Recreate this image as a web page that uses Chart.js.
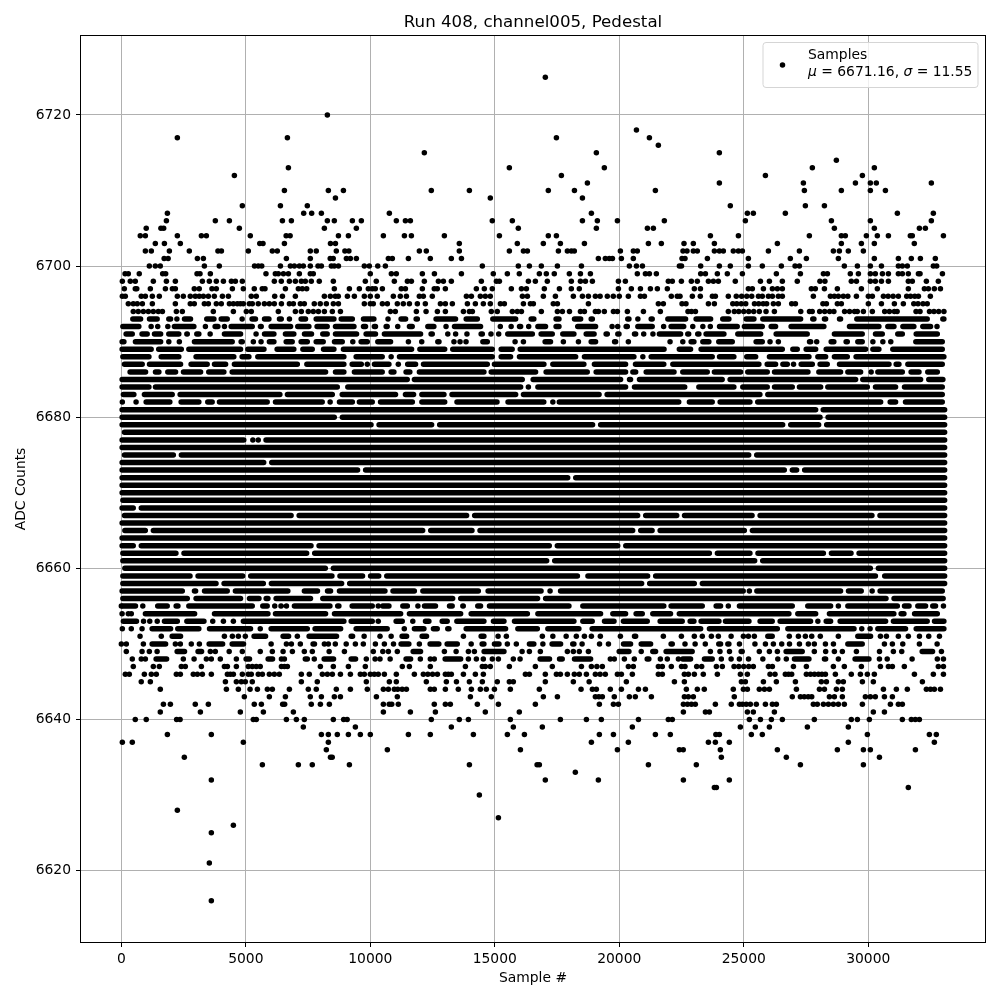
<!DOCTYPE html>
<html>
<head>
<meta charset="utf-8">
<title>Run 408, channel005, Pedestal</title>
<script src="https://cdn.jsdelivr.net/npm/chart.js@4"></script>
<style>
body { margin: 0; background: #fff; }
canvas { display: block; }
</style>
</head>
<body>
<canvas id="myChart" width="1000" height="1000"></canvas>
<script>
// Achsen
const xTicks = [0, 5000, 10000, 15000, 20000, 25000, 30000];
const yTicks = [6620, 6640, 6660, 6680, 6700, 6720];

// single dots: sample numbers per ADC level
const dotLevels = [6725, 6720, 6718, 6717, 6716, 6715, 6714, 6713, 6712, 6711, 6710, 6709, 6708, 6707, 6706, 6705, 6704, 6703, 6702, 6701, 6700, 6699, 6698, 6697, 6696, 6695, 6694,
    6690, 6687, 6684, 6682, 6677, 6657, 6655, 6654, 6653, 6652, 6651, 6650, 6649, 6648, 6647, 6646, 6645, 6644, 6643, 6642, 6641, 6640, 6639, 6638, 6637, 6636, 6635, 6634, 6633, 6632, 6631, 6630, 6628, 6627, 6626, 6625, 6621, 6616];
const dotSamples = [
    /*6725*/ [17030],
    /*6720*/ [8275],
    /*6718*/ [20690],
    /*6717*/ [2250, 6670, 17475, 21210],
    /*6716*/ [21570],
    /*6715*/ [12170, 19080, 24020],
    /*6714*/ [28720],
    /*6713*/ [6710, 15585, 19400, 27755, 30245],
    /*6712*/ [4540, 17675, 25870, 29765],
    /*6711*/ [18720, 24020, 27395, 29485, 30085, 30325, 32535],
    /*6710*/ [6550, 8315, 8920, 12450, 13980, 17150, 18200, 21450, 27435, 28920, 30085, 30690],
    /*6709*/ [8600, 14820, 18520],
    /*6708*/ [4860, 6390, 7470, 24460, 27475, 28240],
    /*6707*/ [1850, 7325, 7645, 8035, 10765, 18880, 25145, 25385, 26670, 31170, 32615],
    /*6706*/ [1810, 3775, 4340, 6470, 6830, 8275, 8555, 9280, 9640, 11045, 11410, 11610, 14900, 15705, 18520, 19120, 19925, 21810, 25065, 28520, 30085, 32535],
    /*6705*/ [1000, 1590, 1700, 4740, 8155, 9440, 15945, 19080, 21130, 21370, 28640, 30245, 32055, 32295],
    /*6704*/ [760, 965, 2250, 3215, 3415, 5180, 6620, 6780, 8720, 9120, 10525, 11370, 11650, 12975, 15185, 17150, 17475, 23660, 24785, 27635, 28920, 29080, 29925, 30365, 30810, 31690, 31770, 33020],
    /*6703*/ [1365, 1730, 2370, 5560, 5690, 6550, 8400, 8600, 13575, 15905, 16950, 17635, 18600, 21170, 21690, 22600, 22975, 23820, 26350, 28920, 29725, 30245, 31850],
    /*6702*/ [965, 1205, 1930, 2730, 3880, 4020, 5100, 6065, 6265, 7590, 7830, 8635, 8980, 9140, 11970, 12250, 13575, 15585, 16150, 16310, 17555, 17915, 18075, 18195, 20045, 20565, 20725, 22560, 22720, 22975, 23135, 23820, 24020, 24180, 24580, 24785, 24945, 25990, 27235, 28600, 28840, 29200, 29805],
    /*6701*/ [1720, 1880, 3055, 3295, 6630, 7590, 8390, 8510, 9040, 9200, 9440, 10725, 10885, 11530, 12410, 13255, 13660, 19160, 19440, 19600, 19725, 20085, 20565, 22520, 22640, 23540, 25185, 26870, 27515, 28800, 30245, 31210, 31730, 32095, 32695],
    /*6700*/ [1125, 1365, 1565, 3335, 3935, 5350, 5500, 5640, 6390, 6790, 6950, 7150, 7310, 7590, 7900, 8035, 8435, 8555, 8720, 9760, 9960, 10300, 10605, 14500, 15945, 16390, 16870, 17515, 18480, 20405, 20690, 20930, 22415, 22500, 23270, 24020, 24460, 25185, 25745, 26510, 27060, 27235, 29040, 29565, 30085, 30530, 31210, 31370, 31570, 32615, 32750],
    /*6699*/ [150, 280, 720, 1660, 1780, 3040, 3160, 3575, 5810, 6185, 6305, 6510, 6710, 7150, 7590, 7710, 10000, 10845, 11045, 12090, 12575, 13660, 14940, 15505, 15985, 16790, 17070, 17390, 17995, 18440, 18840, 20725, 21050, 21210, 21490, 23270, 23460, 23940, 24340, 24945, 26310, 27275, 28200, 28360, 29280, 29605, 30085, 30285, 30570, 30810, 31210, 31370, 31610, 32015, 32080, 32980],
    /*6698*/ [40, 360, 560, 1285, 1810, 2170, 3255, 3535, 3815, 4100, 4420, 4580, 4860, 6145, 6425, 6750, 6990, 7230, 7390, 7630, 7950, 8515, 9800, 10240, 10965, 11490, 11650, 12170, 12735, 12935, 13255, 14460, 15065, 15185, 16350, 16630, 17110, 18075, 18440, 18640, 18920, 19965, 20245, 21970, 22130, 22495, 22895, 23135, 23580, 23780, 23980, 24660, 25670, 26030, 26550, 27150, 28060, 28260, 29320, 29525, 30085, 30285, 30530, 30810, 31610, 31770, 32335, 32815],
    /*6697*/ [120, 560, 620, 1165, 1770, 2050, 2170, 2930, 3130, 3640, 3815, 4460, 4900, 5340, 5660, 5770, 6590, 7110, 7270, 7445, 8555, 9160, 9560, 9920, 10080, 10200, 10485, 11245, 11410, 12090, 12570, 12690, 13015, 14260, 14580, 14900, 15665, 16070, 16270, 16990, 17595, 18075, 18395, 19965, 20485, 20850, 21250, 21530, 21930, 23015, 23260, 25185, 25345, 25790, 26150, 26350, 26550, 27715, 27875, 28240, 28760, 29725, 30365, 31610, 32255, 32415, 32655, 32900],
    /*6696*/ [40, 160, 800, 965, 1245, 1525, 2250, 2490, 2770, 2970, 3130, 3295, 3495, 3735, 4060, 4300, 5220, 5420, 6160, 6470, 6990, 8155, 8395, 8595, 8715, 9080, 9360, 9760, 10000, 10280, 10925, 11205, 11450, 11970, 12130, 12490, 13860, 14060, 14420, 14620, 14820, 16110, 16310, 16950, 17435, 18155, 18520, 18760, 19040, 19230, 19520, 19760, 20000, 20365, 20850, 21010, 22090, 22330, 22440, 22935, 23255, 23740, 23860, 24380, 24700, 24915, 25120, 25320, 25590, 25745, 25990, 26150, 26390, 26550, 27795, 28480, 28640, 28800, 29000, 29180, 29525, 30005, 30165, 30610, 30800, 31000, 31210, 31545, 31700, 31870, 32015, 32495],
    /*6695*/ [280, 480, 640, 845, 1245, 2170, 2770, 2930, 3335, 3495, 3815, 4015, 4340, 4500, 4660, 4780, 4900, 5140, 5260, 5500, 5745, 5945, 6145, 6430, 6750, 6910, 7190, 7350, 7750, 7990, 8235, 8515, 8720, 9760, 10000, 10120, 10485, 10685, 11085, 11325, 11570, 11890, 12210, 12815, 13015, 13295, 13900, 14220, 14540, 14820, 15225, 15385, 16150, 16430, 16550, 17350, 17515, 18760, 21570, 21770, 22520, 22680, 23580, 23820, 24560, 24720, 24900, 25080, 25430, 25600, 25780, 25920, 26190, 26390, 26925, 27075, 28180, 28320, 28760, 28920, 30005, 30530, 31050, 31410, 31830, 32000, 32200, 32370],
    /*6694*/ [480, 680, 885, 1085, 1285, 1485, 1650, 2210, 2450, 3695, 4500, 5020, 5220, 6305, 6990, 7230, 7510, 7710, 7915, 8155, 8475, 8800, 10805, 11005, 11850, 12240, 12695, 13015, 13740, 13980, 14100, 14860, 15100, 15705, 15905, 16070, 16870, 17515, 17715, 18000, 18440, 18600, 19040, 19160, 19400, 19765, 19925, 20325, 20970, 21650, 22760, 22900, 23060, 24380, 24620, 24800, 25000, 25200, 25400, 25625, 25895, 26230, 27290, 27640, 27750, 28050, 28250, 28450, 28620, 29050, 29250, 29450, 29560, 29805, 30165, 30660, 30850, 31050, 31160, 31920, 32080, 32460, 32640, 32830, 33040],
    /*6690*/ [2330, 11530, 12065, 13360, 13605, 13845, 15815, 16150, 17755, 18360, 20365, 22040, 26055, 26390, 27930, 30905],
    /*6687*/ [9880, 11125, 27000],
    /*6684*/ [16350],
    /*6682*/ [40],
    /*6677*/ [5500],
    /*6657*/ [17220, 25225],
    /*6655*/ [0, 10320, 24380, 28800, 33020],
    /*6654*/ [30, 280, 400],
    /*6653*/ [4100, 4500, 10320],
    /*6652*/ [40, 400, 5580, 11365, 29740, 30075],
    /*6651*/ [1605, 4140, 4460, 4700, 4980, 7070, 10390, 13740, 15465, 16910, 18275, 18600, 18880, 19240, 20045, 21770, 22495, 23015, 23335, 23700, 23980, 24985, 25185, 25425, 26830, 27195, 27475, 27730, 28075, 28800, 30490, 30730, 31210, 31610, 32430, 32860],
    /*6650*/ [0, 200, 885, 2170, 2370, 2810, 3135, 6630, 6830, 7190, 8155, 8315, 8595, 9400, 9720, 10205, 10565, 11970, 15505, 15865, 19565, 22640, 23455, 25450, 25870, 26190, 26525, 27595, 27835, 28280, 30650, 30970, 32055],
    /*6649*/ [200, 1125, 3575, 3775, 4860, 5580, 6065, 6870, 7350, 7670, 8960, 10120, 10725, 11085, 12975, 13940, 14180, 16390, 16830, 17915, 18155, 18395, 18760, 23660, 24045, 25625, 26030, 26350, 27835, 28290, 28640, 28960, 29525, 31010, 31345, 32940],
    /*6648*/ [440, 800, 965, 2490, 3415, 3615, 3975, 4620, 6430, 6550, 7390, 7470, 7750, 9840, 10390, 12010, 12410, 12570, 13940, 14260, 14540, 14900, 15145, 15745, 16015, 19640, 19800, 20205, 20605, 21650, 21930, 22375, 24100, 24825, 26710, 28800, 30450, 32775, 33020],
    /*6647*/ [480, 1285, 1525, 2410, 2570, 3215, 4140, 4260, 4620, 5100, 5260, 5420, 5580, 6430, 6550, 6670, 7995, 8515, 9120, 9800, 11285, 11570, 12410, 13820, 14500, 14620, 14820, 15585, 16630, 17310, 18480, 18880, 19100, 19320, 20365, 20565, 21570, 21730, 22090, 22500, 22640, 23110, 23310, 23900, 24140, 24610, 24800, 25000, 25200, 25385, 25990, 26150, 26995, 27515, 28600, 29040, 29725, 30490, 30810, 30970, 31450, 32815, 33020],
    /*6646*/ [160, 320, 925, 1205, 1405, 2210, 2370, 2890, 3055, 3255, 3615, 4260, 4380, 4500, 4860, 5100, 5220, 5500, 5665, 5945, 6145, 6345, 7230, 7550, 8075, 8275, 8475, 8800, 9200, 9600, 9760, 10000, 10160, 10320, 10565, 11045, 11770, 12130, 12310, 12500, 12695, 13015, 13135, 13255, 13740, 14220, 14540, 16230, 16390, 17030, 17475, 17635, 17915, 18195, 18395, 18680, 19040, 19230, 19440, 19925, 20085, 20525, 21570, 21730, 22615, 22775, 23015, 23375, 23940, 24865, 25145, 26055, 26255, 26670, 26800, 26925, 27515, 27680, 27840, 28000, 28140, 28280, 28680, 29320, 29685, 29965, 30245, 31855, 32615, 33020],
    /*6645*/ [800, 1165, 4180, 4620, 4820, 4980, 5260, 7230, 7870, 9840, 10765, 11045, 12250, 13055, 13460, 13980, 14500, 15100, 15585, 15745, 17030, 18155, 18790, 20285, 22215, 22615, 24905, 25065, 25790, 26310, 27075, 28115, 28320, 28800, 29000, 29765, 30205, 32175],
    /*6644*/ [1565, 4220, 4700, 5170, 5465, 5865, 6065, 6750, 7510, 7830, 8635, 9200, 9880, 10525, 10725, 10965, 11100, 11280, 11450, 12410, 12570, 13015, 13535, 14060, 14420, 14660, 14985, 15625, 16790, 18465, 18920, 19080, 19640, 20085, 20770, 21050, 22695, 23135, 23415, 24580, 24985, 25145, 25625, 25830, 26030, 27115, 28040, 28240, 28720, 28960, 30610, 31130, 31570, 32335, 32500, 32655, 32900],
    /*6643*/ [4940, 5945, 6590, 7590, 8035, 8555, 8800, 10245, 11085, 14020, 14860, 16950, 17515, 19040, 19180, 19320, 19800, 20405, 20645, 21290, 22615, 22775, 22975, 24620, 26950, 27275, 27430, 27590, 27730, 28440, 28640, 28960, 29885, 30085, 30285, 30650, 30970],
    /*6642*/ [1690, 1970, 2970, 3495, 5340, 5625, 6480, 6560, 7630, 7995, 8355, 10525, 10760, 10860, 11125, 12570, 13015, 13215, 14300, 15145, 16630, 19200, 19765, 19965, 22575, 22740, 22900, 23055, 23860, 24500, 24825, 24950, 25100, 25265, 25505, 25870, 26150, 26310, 27795, 27955, 28200, 28400, 28600, 28800, 29040, 29765, 30890, 31210, 31370],
    /*6641*/ [1565, 3175, 4780, 5705, 6910, 10525, 11610, 12615, 14620, 15985, 22575, 23460, 23620, 25145, 25385, 26230, 30205, 30650],
    /*6640*/ [560, 1000, 2220, 2360, 5300, 5420, 6630, 7030, 7350, 8515, 8930, 9070, 12450, 13575, 13940, 15625, 17635, 18680, 19280, 20770, 21970, 22130, 25225, 25670, 26110, 26550, 27835, 29320, 29565, 30045, 31370, 31730, 31890, 32055],
    /*6639*/ [7310, 9400, 13255, 15745, 16910, 20525, 24865, 25465, 26030, 27555, 29200],
    /*6638*/ [1850, 3615, 8035, 8315, 8675, 9120, 9600, 10000, 11530, 12410, 14140, 15505, 16190, 19200, 19765, 21450, 22050, 23880, 24020, 25305, 25745, 29965, 32455, 32735],
    /*6637*/ [40, 440, 4900, 8315, 18880, 20365, 23580, 23860, 24420, 29200, 32655],
    /*6636*/ [8235, 10685, 16030, 19925, 22415, 22570, 24060, 26350, 28760, 29805, 30085, 31895],
    /*6635*/ [2530, 8400, 8470, 24100, 26710, 30450],
    /*6634*/ [5665, 7110, 7670, 9160, 13980, 16700, 16790, 21170, 23095, 27275, 29805],
    /*6633*/ [18235],
    /*6632*/ [3615, 17030, 19160, 22575, 24420],
    /*6631*/ [23820, 23900, 31610],
    /*6630*/ [14380],
    /*6628*/ [2250],
    /*6627*/ [15145],
    /*6626*/ [4500],
    /*6625*/ [3615],
    /*6621*/ [3535],
    /*6616*/ [3615]
];

// merged stretches of dots in the dense band, [from, to].
// Here the dots overlap too much to count, so each stretch is drawn as a thick round line.
const spanLevels = [6693, 6692, 6691, 6690, 6689, 6688, 6687, 6686, 6685, 6684, 6683, 6682, 6681, 6680, 6679, 6678, 6677, 6676, 6675, 6674, 6673, 6672, 6671, 6670, 6669, 6668, 6667, 6666, 6665, 6664, 6663, 6662, 6661, 6660, 6659, 6658, 6657, 6656, 6655, 6654, 6653, 6652, 6651, 6650, 6649, 6648];
const spanSamples = [
    /*6693*/ [[350, 885], [1020, 1550], [1795, 2090], [2120, 2290], [2425, 2890], [3320, 3830], [3900, 4365], [4740, 4900], [5140, 5500], [5640, 6040], [6240, 6535], [6640, 6770], [7110, 7510], [7715, 8650], [8720, 9390], [9615, 10255], [10600, 10765], [11125, 11530], [11730, 12000], [12530, 13535], [13740, 14410], [14810, 15950], [16350, 16680], [17350, 17690], [18090, 18560], [18760, 19030], [20230, 20500], [20635, 20840], [21170, 21435], [21840, 22775], [22975, 23780], [24045, 24515], [24985, 25520], [25655, 27395], [27660, 27930], [28130, 28400], [28735, 29000], [29430, 32480], [32885, 33150]],
    /*6692*/ [[-50, 815], [1085, 1260], [1350, 1550], [1755, 1955], [2020, 3025], [3265, 3495], [3655, 3990], [4030, 4230], [4300, 5370], [5475, 5730], [5905, 6910], [6975, 7645], [7750, 8380], [8490, 9455], [9615, 9920], [10050, 10320], [10525, 10790], [10990, 11195], [11460, 11795], [12200, 12665], [12930, 13130], [13270, 14540], [15110, 15310], [15545, 15745], [15880, 16150], [16250, 16450], [16620, 17150], [17350, 17690], [18220, 19160], [19600, 19800], [19825, 20025], [20165, 20435], [20635, 21435], [21670, 21870], [21970, 22700], [22840, 23040], [23245, 23445], [23545, 23745], [23915, 24850], [24915, 25855], [25990, 26390], [26790, 28330], [29135, 30540], [30675, 31145], [31280, 31945], [32080, 32615], [32650, 32850]],
    /*6691*/ [[80, 550], [720, 1150], [1220, 1690], [1795, 2420], [2520, 2760], [2920, 3225], [3455, 3695], [4030, 4900], [5300, 5500], [5640, 6240], [6480, 7040], [7245, 7750], [7980, 8380], [8490, 9560], [9720, 10320], [10455, 12130], [12330, 12600], [13000, 13200], [13315, 13515], [13770, 13970], [14340, 14610], [14735, 14935], [15045, 15245], [15410, 16620], [16750, 17420], [17620, 18290], [18560, 19100], [19360, 19630], [19830, 20100], [20500, 20770], [20870, 21070], [21240, 21440], [21500, 22575], [22640, 22900], [23040, 23310], [23375, 24315], [24650, 25790], [26190, 27660], [28530, 29870], [30180, 30675], [31075, 31480], [31815, 32885]],
    /*6690*/ [[-80, 215], [455, 1690], [1795, 1980], [2825, 4565], [4700, 4970], [5190, 5370], [5500, 5700], [5835, 6240], [6510, 6975], [7110, 7580], [7715, 8220], [8450, 8985], [9185, 9385], [9520, 9990], [10190, 10925], [12600, 12870], [14410, 14810], [16910, 17350], [18760, 19160], [19700, 19965], [22440, 22600], [22775, 23110], [23245, 23710], [23885, 24650], [25385, 25855], [27530, 27800], [28400, 28730], [29000, 29270], [29470, 29870], [30075, 30270], [30475, 30640], [31800, 33085]],
    /*6689*/ [[-80, 1310], [1390, 2520], [2600, 4900], [4970, 5840], [6145, 7040], [7180, 7780], [8010, 8650], [8810, 11770], [11880, 13100], [13200, 15010], [15145, 15810], [15910, 21910], [22300, 22975], [23175, 26660], [26860, 27260], [27395, 28000], [28200, 30005], [30075, 30540], [30875, 33085]],
    /*6688*/ [[-50, 1220], [1490, 2420], [2890, 4630], [4740, 5235], [5370, 9050], [9320, 10590], [10725, 10925], [11060, 15010], [15145, 15745], [15880, 18360], [18490, 20700], [20835, 21030], [21170, 23845], [23915, 24715], [25010, 25590], [25920, 27730], [27865, 28400], [28530, 29270], [29400, 33150]],
    /*6687*/ [[15, 950], [1020, 2490], [2690, 3560], [3630, 4300], [4430, 7180], [7340, 9050], [9160, 9750], [10055, 10860], [11390, 11930], [12025, 14810], [14875, 17085], [17220, 18690], [18890, 20365], [20540, 21900], [22040, 25720], [25830, 26390], [26460, 26860], [27195, 27865], [27955, 28465], [28735, 30945], [31010, 31345], [31480, 33085]],
    /*6686*/ [[240, 1085], [1260, 1620], [1755, 2290], [2385, 3295], [3400, 4230], [4340, 8315], [8490, 9050], [9250, 10590], [10725, 11060], [11325, 11700], [11860, 14675], [14745, 16750], [16950, 18825], [18960, 20365], [20435, 20770], [20970, 22310], [22440, 23645], [23710, 24985], [25050, 26055], [26125, 27690], [27905, 29000], [29070, 29805], [30005, 30180], [30275, 31480], [31610, 32150], [32280, 32885]],
    /*6685*/ [[-80, 11595], [11660, 16215], [16430, 20165], [20300, 20565], [20700, 24245], [24340, 29605], [29670, 32215], [32320, 33110]],
    /*6684*/ [[-80, 1220], [1260, 8785], [8985, 16150], [16620, 20365], [20500, 22740], [23085, 24715], [24850, 26055], [26125, 27060], [27125, 28200], [28265, 30075], [30180, 31210], [31345, 33085]],
    /*6683*/ [[-30, 615], [815, 2155], [2250, 6480], [6560, 8585], [8760, 11125], [11300, 11850], [11960, 13070], [13170, 15950], [16040, 19300], [19400, 25760], [25855, 33085]],
    /*6682*/ [[480, 680], [885, 2060], [2290, 3225], [3360, 3760], [3830, 5970], [6080, 8180], [8275, 8515], [8650, 9390], [9450, 10190], [10300, 11800], [11960, 13100], [13370, 15200], [15420, 17080], [17220, 17350], [17480, 22500], [22705, 23845], [23940, 25360], [25450, 30610], [30770, 31210], [31385, 33085]],
    /*6681*/ [[-80, 28000], [28080, 33180]],
    /*6680*/ [[-80, 8665], [8765, 28175], [28275, 33180]],
    /*6679*/ [[-80, 10140], [10240, 12575], [12675, 19040], [19140, 26675], [26775, 28120], [28220, 33180]],
    /*6678*/ [[15, 33180]],
    /*6677*/ [[-80, 5030], [5170, 5300], [5700, 33180]],
    /*6676*/ [[-80, 33180]],
    /*6675*/ [[15, 2200], [2300, 25310], [25410, 33180]],
    /*6674*/ [[-80, 5830], [5930, 33180]],
    /*6673*/ [[-80, 9600], [9700, 26740], [26840, 27235], [27335, 33180]],
    /*6672*/ [[-80, 18040], [18140, 33180]],
    /*6671*/ [[-80, 33180]],
    /*6670*/ [[-80, 33180]],
    /*6669*/ [[-50, 33180]],
    /*6668*/ [[-80, 590], [690, 33180]],
    /*6667*/ [[15, 6930], [7030, 13980], [14080, 20850], [20950, 22420], [22510, 25445], [25545, 30260], [30360, 33180]],
    /*6666*/ [[-80, 33180]],
    /*6665*/ [[30, 1075], [1175, 12215], [12315, 14195], [14295, 20650], [20750, 21430], [21530, 25135], [25235, 33180]],
    /*6664*/ [[-80, 33180]],
    /*6663*/ [[-80, 590], [690, 7730], [7830, 17300], [17400, 20050], [20150, 33180]],
    /*6662*/ [[-50, 2305], [2405, 7555], [7655, 23730], [23830, 25360], [25460, 28310], [28410, 29420], [29520, 33180]],
    /*6661*/ [[-50, 17195], [17295, 25550], [25650, 33180]],
    /*6660*/ [[30, 8305], [8405, 30195], [30295, 33180]],
    /*6659*/ [[-50, 2870], [2970, 4985], [5085, 8570], [8670, 9800], [9900, 10450], [10550, 18430], [18630, 21250], [21350, 30400], [30550, 33180]],
    /*6658*/ [[-50, 3915], [4015, 5815], [5915, 8960], [9060, 21010], [21110, 23125], [23225, 33180]],
    /*6657*/ [[-80, 2560], [2825, 3095], [3230, 4365], [4470, 6800], [7240, 7990], [8170, 8515], [8650, 10700], [10800, 11880], [12000, 14450], [14620, 16970], [17530, 25090], [25415, 29000], [29095, 29830], [30045, 30230], [30365, 33085]],
    /*6656*/ [[-50, 2760], [2890, 4900], [5035, 5640], [5705, 6000], [6105, 7710], [7980, 13420], [13520, 16830], [16930, 30825], [30925, 33120]],
    /*6655*/ [[-50, 680], [750, 965], [1350, 1955], [2090, 2385], [2600, 5370], [5570, 5970], [6050, 6280], [6300, 6530], [6520, 6700], [6840, 8490], [8580, 8850], [9160, 10190], [10390, 10860], [11195, 11600], [11800, 11990], [12065, 12730], [13070, 13400], [13605, 13845], [14205, 14540], [14675, 18090], [18425, 21900], [21970, 23445], [23780, 24180], [24715, 27060], [27460, 28600], [29070, 31280], [31345, 31750], [31880, 32415], [32480, 32815]],
    /*6654*/ [[855, 3055], [3630, 6000], [6080, 8315], [8450, 11330], [11460, 13740], [13940, 16420], [16620, 19360], [19630, 20365], [20565, 21035], [21235, 22170], [22300, 26925], [27060, 28000], [28330, 31140], [31210, 31545], [31750, 32885]],
    /*6653*/ [[-30, 720], [780, 1000], [1030, 1250], [1330, 1550], [1620, 2360], [2520, 3430], [3560, 3790], [4790, 9050], [9120, 10190], [10925, 11395], [11595, 11795], [12105, 12465], [12775, 13200], [13365, 14675], [14835, 15480], [15680, 18290], [18425, 19025], [19295, 19900], [20055, 21235], [21530, 22640], [22735, 23110], [23175, 24115], [24155, 25320], [25545, 26255], [26350, 27795], [27865, 28040], [28200, 28600], [28760, 30810], [30900, 32480], [32550, 33150]],
    /*6652*/ [[720, 965], [1125, 2090], [2155, 3225], [3430, 5300], [5905, 7580], [7670, 8920], [9320, 10790], [11660, 12265], [12425, 12800], [13000, 13270], [13740, 15545], [15815, 16820], [17020, 18490], [18800, 23380], [23510, 26460], [26660, 29540], [30275, 31610], [31815, 33150]],
    /*6651*/ [[640, 885], [1930, 2490], [5220, 5905], [6385, 6830], [7430, 8755], [9120, 9400], [9640, 9880], [10725, 10925], [11165, 11570], [11970, 12370], [14340, 14675], [15020, 15245], [17220, 17420], [17755, 17955], [20500, 20770], [24380, 24580], [25855, 26255], [29470, 30205], [31945, 32150]],
    /*6650*/ [[1125, 1890], [3415, 4180], [4340, 5020], [5905, 6145], [7590, 7870], [8920, 9160], [10820, 11025], [11125, 11660], [12290, 12865], [12975, 13605], [13940, 14140], [14380, 14675], [14875, 15280], [16280, 16680], [16820, 17020], [17190, 17755], [18020, 18290], [18395, 18625], [19095, 19295], [20060, 20565], [20770, 21370], [21970, 22240], [22935, 23175], [23885, 24180], [24250, 24515], [24715, 24915], [26725, 26940], [27125, 27330], [28490, 28700], [29070, 29870], [31275, 31480], [32655, 32885]],
    /*6649*/ [[720, 925], [1325, 1525], [2130, 2650], [2970, 3335], [4220, 4430], [6385, 6590], [8235, 8440], [10390, 10600], [11610, 12130], [13335, 13575], [14460, 15480], [15985, 16190], [19885, 20500], [20770, 20970], [21235, 21570], [21770, 23040], [24315, 24515], [24785, 25050], [26590, 27460], [30340, 30540], [32055, 32695]],
    /*6648*/ [[1285, 1930], [2810, 3010], [4900, 5260], [5785, 6185], [8035, 8635], [9120, 9520], [10080, 10320], [10685, 10885], [11325, 11730], [12895, 13740], [16710, 17310], [17490, 17820], [18090, 18960], [21010, 21300], [22440, 22975], [23310, 23845], [24380, 24580], [25080, 25280], [25655, 25860], [26255, 26460], [26925, 27730], [28130, 28400], [29360, 30140], [30650, 30850], [31650, 31855]]
];

const capInset = 112; // half a line width in samples, so the round ends stop where the stretch was read

const dotPoints = [];
dotLevels.forEach((level, i) => {
    dotSamples[i].forEach(s => dotPoints.push({ x: s, y: level }));
});

const spanPoints = [];
spanLevels.forEach((level, i) => {
    spanSamples[i].forEach(([from, to]) => {
        spanPoints.push({ x: from + capInset, y: level });
        spanPoints.push({ x: Math.max(to - capInset, from + capInset + 1), y: level });
        spanPoints.push({ x: null, y: null }); // Lücke
    });
});

// Rahmen und Legende wie im Original
const frameAndLegend = {
    id: 'frameAndLegend',
    afterDatasetsDraw(chart) {
        const c = chart.ctx;
        const area = chart.chartArea;
        c.save();
        c.strokeStyle = '#000';
        c.lineWidth = 1;
        c.strokeRect(area.left - 0.5, area.top - 0.5, area.right - area.left + 1, area.bottom - area.top + 1);

        c.beginPath();
        c.roundRect(763, 42.5, 215, 45, 3);
        c.fillStyle = 'rgba(255,255,255,0.8)';
        c.fill();
        c.strokeStyle = '#d5d5d5';
        c.stroke();

        c.beginPath();
        c.arc(782.5, 65, 2.75, 0, Math.PI * 2);
        c.fillStyle = '#000';
        c.fill();

        c.textBaseline = 'alphabetic';
        c.font = '13.89px "DejaVu Sans"';
        c.fillText('Samples', 808, 59);
        let x = 808;
        [['μ', true], [' = 6671.16, ', false], ['σ', true], [' = 11.55', false]].forEach(([text, italic]) => {
            c.font = (italic ? 'italic ' : '') + '13.89px "DejaVu Sans"';
            c.fillText(text, x, 76);
            x += c.measureText(text).width;
        });
        c.restore();
    }
};

Chart.defaults.font.family = '"DejaVu Sans"';
Chart.defaults.font.size = 13.89;
Chart.defaults.color = '#000';

const ctx = document.getElementById('myChart').getContext('2d');
const myChart = new Chart(ctx, {
    type: 'scatter',
    data: {
        datasets: [{
            label: 'Samples',
            data: dotPoints,
            backgroundColor: '#000',
            borderColor: '#000',
            pointRadius: 2.75,
            pointBorderWidth: 0,
            showLine: false
        }, {
            label: 'Samples (merged)',
            data: spanPoints,
            borderColor: '#000',
            borderWidth: 5.5,
            borderCapStyle: 'round',
            pointRadius: 0,
            showLine: true,
            spanGaps: false
        }]
    },
    options: {
        responsive: false,
        animation: false,
        events: [],
        layout: { padding: { right: 15 } },
        plugins: {
            legend: { display: false },
            tooltip: { enabled: false },
            title: {
                display: true,
                fullSize: false,
                text: 'Run 408, channel005, Pedestal',
                color: '#000',
                font: { size: 16.67, weight: 'normal', lineHeight: 1.2 },
                padding: { top: 13, bottom: 3 }
            }
        },
        scales: {
            x: {
                type: 'linear',
                min: -1620,
                max: 34690,
                afterBuildTicks: scale => { scale.ticks = xTicks.map(v => ({ value: v })); },
                afterFit: scale => { scale.height = 58; },
                grid: { color: '#b0b0b0', lineWidth: 1, tickColor: '#000', tickLength: 5 },
                border: { display: false },
                ticks: { callback: v => String(v), padding: 4, maxRotation: 0, autoSkip: false },
                title: { display: true, text: 'Sample #', padding: { top: 0, bottom: 13.7 } }
            },
            y: {
                type: 'linear',
                min: 6610.55,
                max: 6730.45,
                afterBuildTicks: scale => { scale.ticks = yTicks.map(v => ({ value: v })); },
                afterFit: scale => { scale.width = 81; },
                grid: { color: '#b0b0b0', lineWidth: 1, tickColor: '#000', tickLength: 5 },
                border: { display: false },
                ticks: { callback: v => String(v), padding: 5, autoSkip: false },
                title: { display: true, text: 'ADC Counts', padding: { top: 12.7, bottom: 0 } }
            }
        }
    },
    plugins: [frameAndLegend]
});
</script>
</body>
</html>
